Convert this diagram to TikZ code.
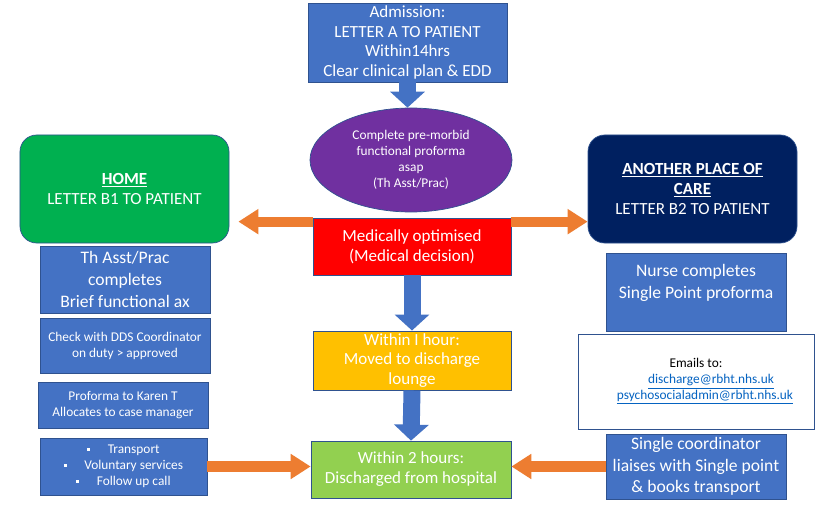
\documentclass[tikz,border=0pt]{standalone}
\usepackage{fontspec}
\setmainfont{Carlito}
\usetikzlibrary{arrows.meta, calc, shapes.geometric}
\definecolor{boxblue}{RGB}{68,114,196}
\definecolor{boxedge}{RGB}{47,82,143}
\definecolor{ellpurple}{RGB}{112,48,160}
\definecolor{homegreen}{RGB}{0,176,80}
\definecolor{carenavy}{RGB}{0,32,96}
\definecolor{medred}{RGB}{255,0,0}
\definecolor{loungeamber}{RGB}{255,192,0}
\definecolor{dischgreen}{RGB}{146,208,80}
\definecolor{arrorange}{RGB}{237,125,49}
\definecolor{linkblue}{RGB}{5,99,193}
\newcommand{\sqbullet}{\raisebox{2.5pt}{\rule{2.6pt}{2.6pt}}\hspace{1.3em}}

\begin{document}
\begin{tikzpicture}[
  x=0.03cm, y=-0.03cm,
  box/.style={draw=boxedge, line width=0.6pt, fill=boxblue, text=white, align=center,
              inner sep=2pt, font=\fontsize{14.5}{17}\selectfont},
  smallbox/.style={box, font=\fontsize{11.4}{13.6}\selectfont},
  bigbox/.style={box, font=\fontsize{15}{18.5}\selectfont},
  downarrow/.style={-{Triangle[width=1.02cm,length=0.48cm]}, line width=0.51cm, boxblue},
  sidearrow/.style={-{Triangle[width=0.72cm,length=0.6cm]}, line width=0.3cm, arrorange}
]
  \useasboundingbox[fill=white] (0,0) rectangle (830,513);

  % centre column
  \node[box, minimum width=5.97cm, minimum height=2.25cm] (adm) at (407.5,42.5)
    {Admission:\\LETTER A TO PATIENT\\Within14hrs\\Clear clinical plan \& EDD};
  \node[ellipse, draw=boxedge, line width=0.6pt, fill=ellpurple, text=white, align=center,
        inner sep=0pt, minimum width=6.06cm, minimum height=3.12cm,
        font=\fontsize{11.4}{13.6}\selectfont] (prem) at (411,160)
    {Complete pre-morbid\\functional proforma\\asap\\(Th Asst/Prac)};
  \node[box, fill=medred, minimum width=5.94cm, minimum height=1.71cm] (med) at (412,246.5)
    {Medically optimised\\(Medical decision)};
  \node[box, fill=loungeamber, minimum width=5.94cm, minimum height=1.71cm] (lounge) at (412,360.5)
    {Within I hour:\\Moved to discharge\\lounge};
  \node[box, fill=dischgreen, minimum width=6cm, minimum height=1.71cm] (dis) at (411,469.5)
    {Within 2 hours:\\Discharged from hospital};

  % home side
  \node[box, fill=homegreen, rounded corners=0.5cm, minimum width=6.27cm, minimum height=3.24cm]
    (home) at (124.5,189) {\underline{\textbf{HOME}}\\LETTER B1 TO PATIENT};
  \node[bigbox, minimum width=5.1cm, minimum height=2.01cm] (tha) at (125,279.5)
    {Th Asst/Prac\\completes\\Brief functional ax};
  \node[smallbox, minimum width=5.1cm, minimum height=1.65cm] (dds) at (125,345.5)
    {Check with DDS Coordinator\\on duty > approved};
  \node[smallbox, minimum width=5.1cm, minimum height=1.38cm] (karen) at (123,405)
    {Proforma to Karen T\\Allocates to case manager};
  \node[smallbox, minimum width=5.01cm, minimum height=1.71cm] (extras) at (123.5,466.5)
    {\sqbullet Transport\\\sqbullet Voluntary services\\\sqbullet Follow up call};

  % other place of care side
  \node[box, fill=carenavy, rounded corners=0.5cm, minimum width=6.27cm, minimum height=3.24cm]
    (other) at (692.5,189)
    {\underline{\textbf{ANOTHER PLACE OF}}\\\underline{\textbf{CARE}}\\LETTER B2 TO PATIENT};
  \node[bigbox, minimum width=5.4cm, minimum height=2.34cm] (nurse) at (696,292)
    {Nurse completes\\Single Point proforma\\\mbox{}};
  \node[smallbox, fill=white, text=black, minimum width=7.08cm, minimum height=2.85cm] (mail) at (696,381.5)
    {Emails to:\\\hspace*{0.9cm}\textcolor{linkblue}{\underline{discharge@rbht.nhs.uk}}\\
     \hspace*{0.54cm}\textcolor{linkblue}{\underline{psychosocialadmin@rbht.nhs.uk}}};
  \node[bigbox, minimum width=5.4cm, minimum height=1.95cm] (coord) at (696,466.5)
    {Single coordinator\\liaises with Single point\\\& books transport};

  % connectors
  \draw[downarrow] (adm.south) -- (adm.south |- prem.north);
  \draw[downarrow] (med.south) -- (lounge.north);
  \draw[downarrow] (lounge.south) -- (dis.north);
  \draw[sidearrow, shorten >=0.27cm] ($(med.north west)+(0,4)$) -- ($(med.north west -| home.east)+(0,4)$);
  \draw[sidearrow] ($(med.north east)+(0,4)$) -- ($(med.north east -| other.west)+(0,4)$);
  \draw[sidearrow] (extras.east) -- (extras.east -| dis.west);
  \draw[sidearrow] (coord.west) -- (coord.west -| dis.east);
\end{tikzpicture}
\end{document}
